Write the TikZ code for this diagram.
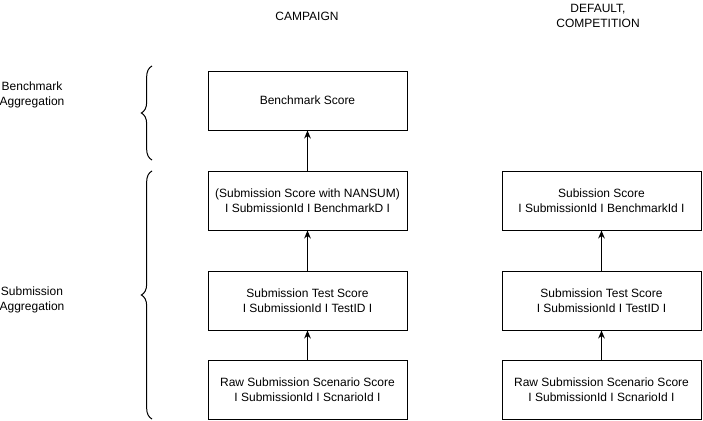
\documentclass[tikz,border=0pt]{standalone}
\usepackage{fontspec}
\setmainfont{Liberation Sans}
\usetikzlibrary{decorations.pathreplacing,arrows.meta}
\begin{document}
\begin{tikzpicture}[x=0.75pt,y=-0.75pt,
  box/.style={draw,line width=0.75pt,minimum width=149.25pt,minimum height=44.25pt,inner sep=0pt,align=center,font=\fontsize{9}{11}\selectfont},
  lbl/.style={align=center,font=\fontsize{9}{11}\selectfont,inner sep=0pt},
  arr/.style={-{Stealth[length=6pt,width=5pt]},line width=0.75pt},
  brc/.style={decorate,decoration={brace,amplitude=8pt},line width=0.75pt}]
\path[use as bounding box,fill=white] (0,0) rectangle (703,421);
\node[box] (bench) at (307.5,100.5) {Benchmark Score};
\node[box] (subC) at (307.5,200.5) {(Submission Score with NANSUM)\\I SubmissionId I BenchmarkD I};
\node[box] (testC) at (307.5,300.5) {Submission Test Score\\I SubmissionId I TestID I};
\node[box] (rawC) at (307.5,390) {Raw Submission Scenario Score\\I SubmissionId I ScnarioId I};
\node[box] (subD) at (601.5,200.5) {Subission Score\\I SubmissionId I BenchmarkId I};
\node[box] (testD) at (601.5,300.5) {Submission Test Score\\I SubmissionId I TestID I};
\node[box] (rawD) at (601.5,390) {Raw Submission Scenario Score\\I SubmissionId I ScnarioId I};
\draw[arr] (subC) -- (bench);
\draw[arr] (testC) -- (subC);
\draw[arr] (rawC) -- (testC);
\draw[arr] (testD) -- (subD);
\draw[arr] (rawD) -- (testD);
\node[lbl] (tC) at (307,16) {CAMPAIGN};
\node[lbl] (tD) at (598,16) {DEFAULT,\\COMPETITION};
\node[lbl] (lB) at (32,95) {Benchmark\\Aggregation};
\node[lbl] (lS) at (32,300) {Submission\\Aggregation};
\coordinate (b1a) at (152,160);
\coordinate (b1b) at (152,66);
\coordinate (b2a) at (152,419);
\coordinate (b2b) at (152,171);
\draw[brc] (b1a) -- (b1b);
\draw[brc] (b2a) -- (b2b);
\end{tikzpicture}
\end{document}
